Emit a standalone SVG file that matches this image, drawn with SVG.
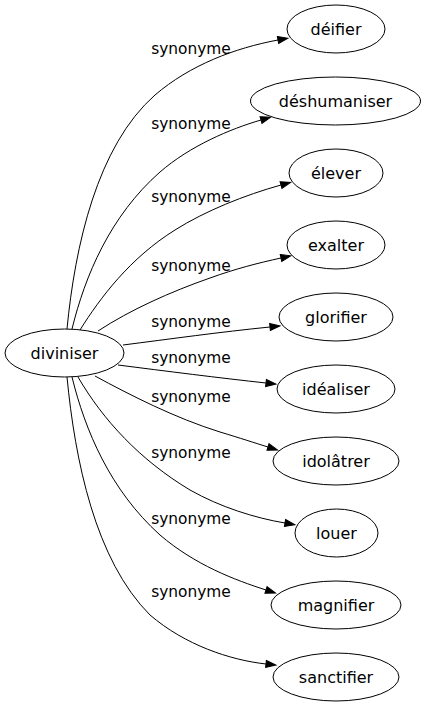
<svg xmlns="http://www.w3.org/2000/svg" width="428" height="707" viewBox="0 0 428 707">
<style>
.n ellipse{fill:#fff;stroke:#000;stroke-width:1}
.n text{font-family:"DejaVu Sans",sans-serif;font-size:16px;fill:#000;text-anchor:middle}
.e path{fill:none;stroke:#000;stroke-width:1;marker-end:url(#ah)}
.e text{font-family:"DejaVu Sans",sans-serif;font-size:15.4px;fill:#000;text-anchor:middle}
</style>
<defs>
<marker id="ah" markerUnits="userSpaceOnUse" markerWidth="10" markerHeight="7" refX="0" refY="3.5" orient="auto" overflow="visible">
<path d="M0,0 L10,3.5 L0,7 z" fill="#000" stroke="#000" stroke-width="1"/>
</marker>
</defs>
<rect width="428" height="707" fill="#fff"/>
<g id="edges" class="e">
<path d="M67,329 C75,246 97,146 155,95 C190,65 235,48 278,40"/>
<text x="191" y="54">synonyme</text>
<path d="M72,329 C85,276 110,216 160,172 C190,146 230,129 261,120"/>
<text x="191" y="129">synonyme</text>
<path d="M80,330 C100,298 130,258 175,230 C205,211 245,195 281,185"/>
<text x="191" y="202">synonyme</text>
<path d="M98,331 C130,310 170,292 210,278 C235,269 258,263 281,258"/>
<text x="191" y="271">synonyme</text>
<path d="M123,345 C170,339 220,332 270,327"/>
<text x="191" y="327">synonyme</text>
<path d="M118,365 C165,371 220,378 266,383"/>
<text x="191" y="363">synonyme</text>
<path d="M95,376 C130,395 175,418 220,432 C240,438 255,443 268,447"/>
<text x="191" y="402">synonyme</text>
<path d="M78,377 C103,420 140,460 190,490 C220,507 255,518 285,523"/>
<text x="191" y="458">synonyme</text>
<path d="M72,377 C85,430 110,490 160,535 C195,565 235,580 266,590"/>
<text x="191" y="524">synonyme</text>
<path d="M67,377 C75,460 95,560 150,615 C185,645 230,660 266,664"/>
<text x="191" y="597">synonyme</text>
</g>
<g id="diviniser" class="n"><ellipse cx="64.5" cy="353" rx="59.5" ry="24"/><text x="64.5" y="358.5">diviniser</text></g>
<g id="deifier" class="n"><ellipse cx="336" cy="29" rx="49" ry="24"/><text x="336" y="34.5">déifier</text></g>
<g id="deshumaniser" class="n"><ellipse cx="335.5" cy="101" rx="85" ry="24"/><text x="335.5" y="106.5">déshumaniser</text></g>
<g id="elever" class="n"><ellipse cx="336" cy="173" rx="47" ry="24"/><text x="336" y="178.5">élever</text></g>
<g id="exalter" class="n"><ellipse cx="336" cy="245" rx="49" ry="24"/><text x="336" y="250.5">exalter</text></g>
<g id="glorifier" class="n"><ellipse cx="336" cy="317" rx="57" ry="24"/><text x="336" y="322.5">glorifier</text></g>
<g id="idealiser" class="n"><ellipse cx="336" cy="389" rx="59" ry="24"/><text x="336" y="394.5">idéaliser</text></g>
<g id="idolatrer" class="n"><ellipse cx="336" cy="461" rx="63" ry="24"/><text x="336" y="466.5">idolâtrer</text></g>
<g id="louer" class="n"><ellipse cx="336.5" cy="533" rx="41.5" ry="24"/><text x="336.5" y="538.5">louer</text></g>
<g id="magnifier" class="n"><ellipse cx="336" cy="605" rx="65" ry="24"/><text x="336" y="610.5">magnifier</text></g>
<g id="sanctifier" class="n"><ellipse cx="336" cy="677" rx="63" ry="24"/><text x="336" y="682.5">sanctifier</text></g>
</svg>
